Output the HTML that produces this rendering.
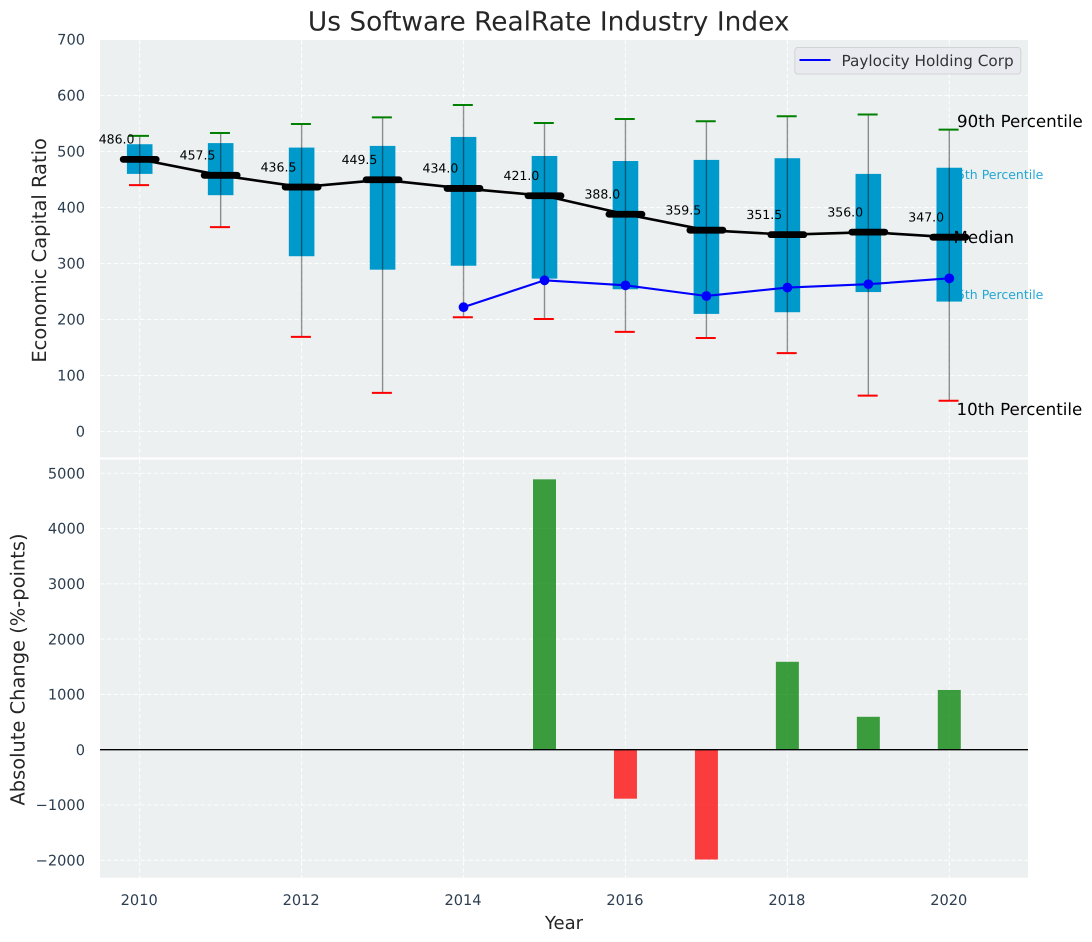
<!DOCTYPE html>
<html>
<head>
<meta charset="utf-8">
<title>Us Software RealRate Industry Index</title>
<style>
html,body{margin:0;padding:0;background:#fff;}
svg{display:block;}
text{font-family:"DejaVu Sans","Liberation Sans",sans-serif;text-rendering:geometricPrecision;}
</style>
</head>
<body>
<svg id="chart" xmlns="http://www.w3.org/2000/svg" width="1092" height="942" viewBox="0 0 1092 942">
  <text x="548.7" y="30.5" text-anchor="middle" font-size="26.4" fill="#262626">Us Software RealRate Industry Index</text>
  <rect x="100" y="40" width="928" height="417.5" fill="#ecf0f1"/>
  <rect x="100" y="459.5" width="928" height="418.2" fill="#ecf0f1"/>
  <g id="grid"></g>
  <g id="change-bars"></g>
  <g id="boxes"></g>
  <g id="median-series"></g>
  <g id="company-series"></g>
  <g id="ticks"></g>
  <text x="957" y="127" font-size="16.67" fill="#000">90th Percentile</text>
  <text x="949" y="179" font-size="12.5" fill="#0099cc" fill-opacity="0.85">75th Percentile</text>
  <text x="953.5" y="243" font-size="16.67" fill="#000">Median</text>
  <text x="949" y="299" font-size="12.5" fill="#0099cc" fill-opacity="0.85">25th Percentile</text>
  <text x="956.5" y="415" font-size="16.67" fill="#000">10th Percentile</text>
  <text transform="translate(46 250.4) rotate(-90)" text-anchor="middle" font-size="19.44" fill="#262626">Economic Capital Ratio</text>
  <text transform="translate(24.5 669.5) rotate(-90)" text-anchor="middle" font-size="19.44" fill="#262626">Absolute Change (%-points)</text>
  <text x="564" y="929" text-anchor="middle" font-size="18.06" fill="#262626">Year</text>
  <g>
    <rect x="794.8" y="47.5" width="226" height="26.5" rx="3" fill="#e9eaf0" stroke="#d2d3d6" stroke-width="1"/>
    <line x1="799.5" y1="60" x2="830.5" y2="60" stroke="#0000ff" stroke-width="2"/>
    <text x="841.5" y="65.8" font-size="15.28" fill="#333">Paylocity Holding Corp</text>
  </g>
</svg>
<script>
var years = [2010, 2011, 2012, 2013, 2014, 2015, 2016, 2017, 2018, 2019, 2020];
var p90 = [528, 533, 549, 561, 583, 551, 558, 554, 563, 566, 539];
var q75 = [513, 515, 507, 510, 526, 492, 483, 485, 488, 460, 471];
var median = [486, 457.5, 436.5, 449.5, 434, 421, 388, 359.5, 351.5, 356, 347];
var q25 = [460, 422, 313, 289, 296, 273, 254, 210, 213, 249, 232];
var p10 = [440, 365, 169, 69, 204, 201, 178, 167, 140, 64, 55];
var companyYears = [2014, 2015, 2016, 2017, 2018, 2019, 2020];
var companyValues = [222, 270, 261, 242, 257, 263, 273.5];
var changeYears = [2015, 2016, 2017, 2018, 2019, 2020];
var changeValues = [4890, -886, -1986, 1590, 595, 1080];
var xTicks = [2010, 2012, 2014, 2016, 2018, 2020];
var yTicksTop = [0, 100, 200, 300, 400, 500, 600, 700];
var yTicksBottom = [-2000, -1000, 0, 1000, 2000, 3000, 4000, 5000];

var NS = 'http://www.w3.org/2000/svg';
function xScale(v) { return 139.7 + (v - 2010) * 80.96; }
function yTop(v) { return 431.5 - v * 0.56; }
function yBottom(v) { return 749.7 - v * 0.05529; }
function make(parent, tag, attrs, txt) {
  var el = document.createElementNS(NS, tag);
  for (var k in attrs) { el.setAttribute(k, attrs[k]); }
  if (txt !== undefined) { el.textContent = txt; }
  parent.appendChild(el);
  return el;
}
var gridG = document.getElementById('grid');
var barsG = document.getElementById('change-bars');
var boxG = document.getElementById('boxes');
var medG = document.getElementById('median-series');
var compG = document.getElementById('company-series');
var tickG = document.getElementById('ticks');
function gridLine(x1, y1, x2, y2) {
  var el = make(gridG, 'line', { x1: x1, y1: y1, x2: x2, y2: y2, stroke: '#ffffff', 'stroke-width': 1.1, 'stroke-dasharray': '4.5 2.2', 'stroke-opacity': 0.85 });
  
  
}
function tickLabel(x, y, anchor, v) {
  var el = make(tickG, 'text', { x: x, y: y, 'text-anchor': anchor, 'font-size': 14.58, fill: '#2c3e50' }, String(v).replace('-', '\u2212'));
  
  
}
xTicks.forEach(function (t) {
  gridLine(xScale(t), 40, xScale(t), 457.5);
  gridLine(xScale(t), 459.5, xScale(t), 877.7);
  tickLabel(xScale(t) - 0.5, 905, 'middle', t);
});
yTicksTop.forEach(function (t) {
  gridLine(100, yTop(t), 1028, yTop(t));
  tickLabel(85, yTop(t) + 5.2, 'end', t);
});
yTicksBottom.forEach(function (t) {
  gridLine(100, yBottom(t), 1028, yBottom(t));
  tickLabel(85, yBottom(t) + 5.2, 'end', t);
});
changeYears.forEach(function (yr, i) {
  var v = changeValues[i];
  var y0 = yBottom(Math.max(v, 0));
  var y1 = yBottom(Math.min(v, 0));
  var el = make(barsG, 'rect', { x: xScale(yr) - 11.5, y: y0, width: 23, height: y1 - y0, fill: v >= 0 ? '#008000' : '#ff0000', 'fill-opacity': 0.75 });
  
  
});
var zero = make(barsG, 'line', { x1: 100, y1: yBottom(0), x2: 1028, y2: yBottom(0), stroke: '#000', 'stroke-width': 1.4 });


years.forEach(function (yr, i) {
  var x = xScale(yr);
  var box = make(boxG, 'rect', { x: x - 12.8, y: yTop(q75[i]), width: 25.6, height: yTop(q25[i]) - yTop(q75[i]), fill: '#0099cc' });
  
  
  var whisk = make(boxG, 'line', { x1: x, y1: yTop(p90[i]), x2: x, y2: yTop(p10[i]), stroke: '#000', 'stroke-opacity': 0.42, 'stroke-width': 1.4 });
  
  
  var hi = make(boxG, 'line', { x1: x - 10.7, y1: yTop(p90[i]), x2: x + 9.3, y2: yTop(p90[i]), stroke: '#008000', 'stroke-width': 2 });
  
  
  var lo = make(boxG, 'line', { x1: x - 10.7, y1: yTop(p10[i]), x2: x + 9.3, y2: yTop(p10[i]), stroke: '#ff0000', 'stroke-width': 2 });
  
  
});
var medPts = years.map(function (yr, i) { return xScale(yr) + ',' + yTop(median[i]); }).join(' ');
var medLine = make(medG, 'polyline', { points: medPts, fill: 'none', stroke: '#000', 'stroke-width': 2.6 });


years.forEach(function (yr, i) {
  var x = xScale(yr);
  var y = yTop(median[i]);
  var seg = make(medG, 'line', { x1: x - 16.5, y1: y, x2: x + 16.5, y2: y, stroke: '#000', 'stroke-width': 6.8, 'stroke-linecap': 'round' });
  
  
  var lab = make(medG, 'text', { x: x - 41, y: y - 15.8, 'font-size': 12.5, fill: '#000' }, median[i].toFixed(1));
  
  
});
var compPts = companyYears.map(function (yr, i) { return xScale(yr) + ',' + yTop(companyValues[i]); }).join(' ');
var compLine = make(compG, 'polyline', { points: compPts, fill: 'none', stroke: '#0000ff', 'stroke-width': 2.1 });


companyYears.forEach(function (yr, i) {
  var dot = make(compG, 'circle', { cx: xScale(yr), cy: yTop(companyValues[i]), r: 4.9, fill: '#0000ff' });
  
  
});
</script>
</body>
</html>
